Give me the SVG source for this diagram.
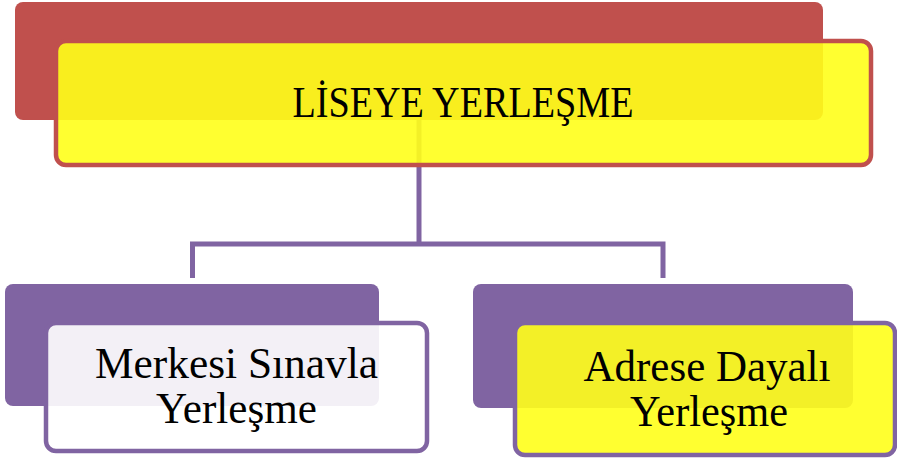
<svg xmlns="http://www.w3.org/2000/svg" width="897" height="460" viewBox="0 0 897 460">
<style>
.conn{fill:none;stroke:#8064A2;stroke-width:5}
.backR{fill:#C0504D}
.backP{fill:#8064A2}
.frontR{fill:#FFFF1A;fill-opacity:0.9;stroke:#C0504D;stroke-width:4.5}
.frontPW{fill:#FFFFFF;fill-opacity:0.9;stroke:#8064A2;stroke-width:4.5}
.frontPY{fill:#FFFF1A;fill-opacity:0.9;stroke:#8064A2;stroke-width:4.5}
text{font-family:"Liberation Serif","DejaVu Serif",serif;fill:#000;text-anchor:middle;font-size:44px}
</style>
<rect width="897" height="460" fill="#FFFFFF"/>
<g id="connectors">
<path class="conn" d="M419,120 V244"/>
<path class="conn" d="M192.5,278 V244 H663 V278"/>
</g>
<g id="node-root">
<rect class="backR" x="15" y="2" width="808" height="118" rx="8"/>
<rect class="frontR" x="56" y="41" width="815" height="124" rx="10"/>
<text x="463" y="117" textLength="341" lengthAdjust="spacingAndGlyphs">LİSEYE YERLEŞME</text>
</g>
<g id="node-left">
<rect class="backP" x="5" y="284" width="374" height="122" rx="8"/>
<rect class="frontPW" x="46" y="323" width="381" height="128" rx="10"/>
<text x="236.5" y="378" textLength="283" lengthAdjust="spacingAndGlyphs">Merkesi Sınavla</text>
<text x="236.5" y="423" textLength="161" lengthAdjust="spacingAndGlyphs">Yerleşme</text>
</g>
<g id="node-right">
<rect class="backP" x="473" y="284" width="380" height="124" rx="8"/>
<rect class="frontPY" x="515" y="323" width="380" height="132" rx="10"/>
<text x="707" y="381" textLength="247" lengthAdjust="spacingAndGlyphs">Adrese Dayalı</text>
<text x="709" y="426" textLength="158" lengthAdjust="spacingAndGlyphs">Yerleşme</text>
</g>
</svg>
